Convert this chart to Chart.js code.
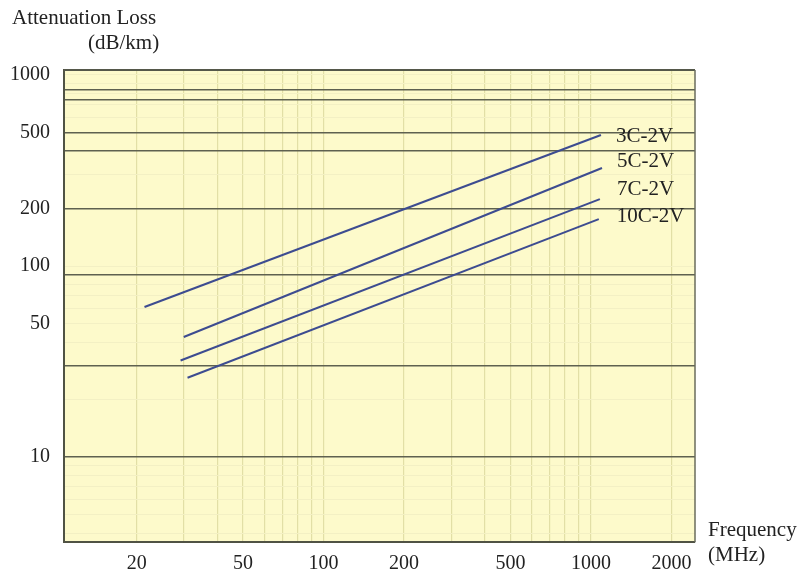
<!DOCTYPE html>
<html>
<head>
<meta charset="utf-8">
<script src="https://cdn.jsdelivr.net/npm/chart.js@4"></script>
<style>
  html, body { margin: 0; padding: 0; background: #fff; }
  #wrap { width: 799px; height: 575px; }
</style>
</head>
<body>
<div id="wrap"><canvas id="lossChart"></canvas></div>
<script>
// cable names
const cables = ['3C-2V', '5C-2V', '7C-2V', '10C-2V'];

// frequency (MHz) at start / end of each line
const freq3C = [21.4, 1090];
const freq5C = [30, 1100];
const freq7C = [29.2, 1080];
const freq10C = [31, 1070];

// attenuation (dB/km)
const loss3C = [61, 485];
const loss5C = [42.5, 326];
const loss7C = [32, 224];
const loss10C = [26, 176];

// tick labels
const xLabels = [20, 50, 100, 200, 500, 1000, 2000];
const yLabels = [10, 50, 100, 200, 500, 1000];
// horizontal rules that show dark in the printed sheet
const yDarkLines = [10, 30, 90, 200, 400, 500, 740, 840];

const gridX = [];
[10, 100, 1000].forEach(d => { for (let m = 1; m < 10; m++) gridX.push(m * d); });
const gridY = [];
[1, 10, 100].forEach(d => { for (let m = 1; m < 10; m++) gridY.push(m * d); });
gridY.push(740, 840, 1000);
gridY.sort((a, b) => a - b);

const lineColor = '#3d4c90';
const serif = 'Liberation Serif, Times New Roman, serif';

function pts(xs, ys) {
  return xs.map((x, i) => ({ x: x, y: ys[i] }));
}

const series = [pts(freq3C, loss3C), pts(freq5C, loss5C), pts(freq7C, loss7C), pts(freq10C, loss10C)];
const labelDx = [15, 15, 17, 18];
const labelDy = [1, -6, -10, -3];

const paperPlugin = {
  id: 'paper',
  beforeDraw(chart) {
    const { ctx, chartArea: a } = chart;
    ctx.save();
    ctx.fillStyle = '#fdfacb';
    ctx.fillRect(a.left, a.top, a.right - a.left, a.bottom - a.top);
    ctx.restore();
  },
  afterDraw(chart) {
    const { ctx, chartArea: a } = chart;
    ctx.save();
    // frame
    ctx.strokeStyle = '#55584a';
    ctx.lineWidth = 2;
    ctx.beginPath();
    ctx.moveTo(a.left, a.top);
    ctx.lineTo(a.right, a.top);
    ctx.stroke();
    ctx.lineWidth = 1.5;
    ctx.strokeStyle = '#6a6c5c';
    ctx.beginPath();
    ctx.moveTo(a.right, a.top);
    ctx.lineTo(a.right, a.bottom);
    ctx.stroke();

    // axis titles
    ctx.fillStyle = '#222';
    ctx.font = '21px ' + serif;
    ctx.textBaseline = 'middle';
    ctx.textAlign = 'left';
    ctx.fillText('Attenuation Loss', 12, 18);
    ctx.fillText('(dB/km)', 88, 43);
    ctx.fillText('Frequency', a.right + 13, 530);
    ctx.fillText('(MHz)', a.right + 13, 555);

    // series names at line ends
    const xs = chart.scales.x, ys = chart.scales.y;
    series.forEach((s, i) => {
      const last = s[s.length - 1];
      ctx.fillText(cables[i], xs.getPixelForValue(last.x) + labelDx[i], ys.getPixelForValue(last.y) + labelDy[i]);
    });
    ctx.restore();
  }
};

new Chart(document.getElementById('lossChart'), {
  type: 'line',
  data: {
    datasets: series.map((s, i) => ({
      label: cables[i],
      data: s,
      borderColor: lineColor,
      borderWidth: 2,
      pointRadius: 0,
      fill: false
    }))
  },
  options: {
    responsive: true,
    maintainAspectRatio: false,
    animation: false,
    layout: { padding: { top: 70, right: 104, left: 0, bottom: 0 } },
    plugins: { legend: { display: false }, tooltip: { enabled: false } },
    scales: {
      x: {
        type: 'logarithmic',
        min: 10.7,
        max: 2450,
        afterBuildTicks: s => { s.ticks = gridX.filter(v => v >= s.min && v <= s.max).map(v => ({ value: v })); },
        afterFit: s => { s.height = 33; },
        ticks: {
          autoSkip: false,
          maxRotation: 0,
          padding: 10,
          color: '#222',
          font: { family: serif, size: 20 },
          callback: v => xLabels.includes(v) ? String(v) : ''
        },
        grid: {
          drawTicks: false,
          color: '#e2dfa6',
          lineWidth: 1.2
        },
        border: { color: '#505344', width: 2 }
      },
      y: {
        type: 'logarithmic',
        min: 3.59,
        max: 1062,
        afterBuildTicks: s => { s.ticks = gridY.filter(v => v >= s.min && v <= s.max).map(v => ({ value: v })); },
        afterFit: s => { s.width = 64; },
        ticks: {
          autoSkip: false,
          padding: 14,
          color: '#222',
          font: { family: serif, size: 20 },
          callback: v => yLabels.includes(v) ? String(v) : ''
        },
        grid: {
          drawTicks: false,
          color: c => yDarkLines.includes(c.tick.value) ? '#5e6150' : '#f3f0c4',
          lineWidth: c => yDarkLines.includes(c.tick.value) ? 1.5 : 1
        },
        border: { color: '#505344', width: 2 }
      }
    }
  },
  plugins: [paperPlugin]
});
</script>
</body>
</html>
